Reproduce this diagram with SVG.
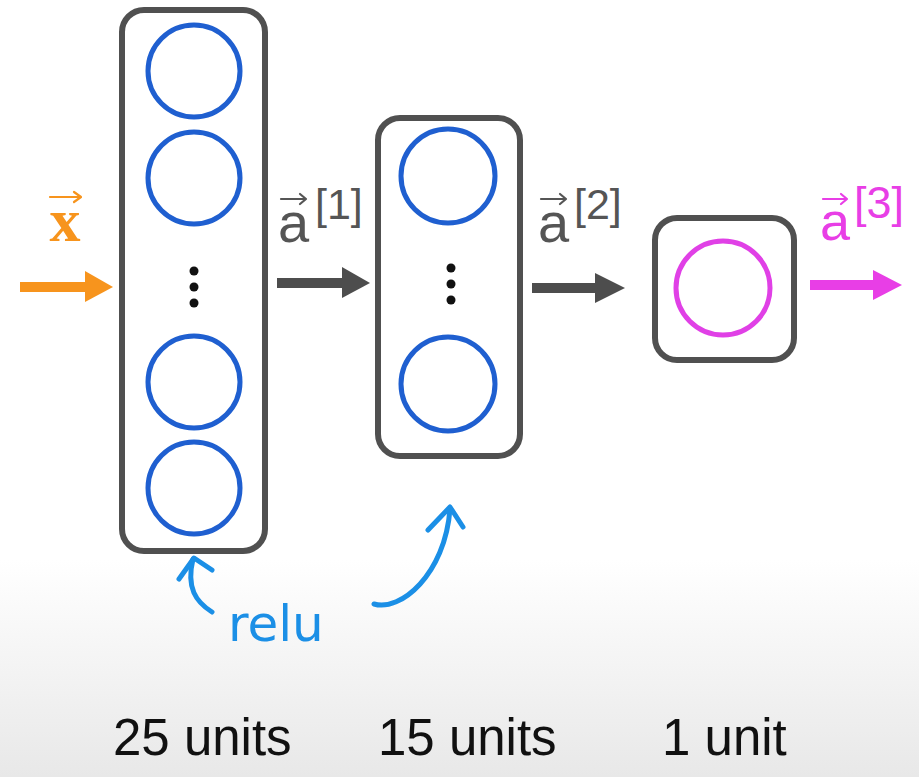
<svg xmlns="http://www.w3.org/2000/svg" width="919" height="777" viewBox="0 0 919 777">
  <defs>
    <linearGradient id="bg" x1="0" y1="560" x2="0" y2="777" gradientUnits="userSpaceOnUse">
      <stop offset="0" stop-color="#ffffff"/>
      <stop offset="1" stop-color="#e8e8e8"/>
    </linearGradient>
    <style>
      .box { fill: #ffffff; stroke: #505050; stroke-width: 6; }
      .unit { fill: none; stroke: #1f5fd0; stroke-width: 5; }
      .out { fill: none; stroke: #e040e6; stroke-width: 5; }
      .dot { fill: #111111; }
      .lbl { font-family: "Liberation Sans", Arial, sans-serif; }
      .vec { fill: none; stroke-width: 2.2; stroke-linecap: round; stroke-linejoin: round; }
      .hand { fill: none; stroke: #1b8fe6; stroke-width: 5; stroke-linecap: round; stroke-linejoin: round; }
      .cnt { font-family: "Liberation Sans", Arial, sans-serif; font-size: 51px; fill: #111111; }
    </style>
  </defs>
  <rect x="0" y="0" width="919" height="777" fill="url(#bg)"/>

  <g id="layer1">
    <rect class="box" x="122" y="10" width="143" height="541" rx="22"/>
    <circle class="unit" cx="194" cy="71" r="46"/>
    <circle class="unit" cx="194" cy="178" r="46"/>
    <circle class="dot" cx="194" cy="271" r="4.5"/>
    <circle class="dot" cx="194" cy="287" r="4.5"/>
    <circle class="dot" cx="194" cy="303" r="4.5"/>
    <circle class="unit" cx="194" cy="382" r="46"/>
    <circle class="unit" cx="194" cy="488" r="46"/>
  </g>

  <g id="layer2">
    <rect class="box" x="378" y="118" width="142" height="338" rx="22"/>
    <circle class="unit" cx="448" cy="176" r="47"/>
    <circle class="dot" cx="451" cy="268" r="4.5"/>
    <circle class="dot" cx="451" cy="284" r="4.5"/>
    <circle class="dot" cx="451" cy="300" r="4.5"/>
    <circle class="unit" cx="448" cy="384" r="47"/>
  </g>

  <g id="layer3">
    <rect class="box" x="655" y="218" width="139" height="142" rx="22"/>
    <circle class="out" cx="723" cy="288" r="47"/>
  </g>

  <g id="connectors">
    <path d="M20 287 H88" stroke="#f7941d" stroke-width="10" fill="none"/>
    <polygon points="85,271 113,287 85,302" fill="#f7941d"/>
    <path d="M277 283 H345" stroke="#4d4d4d" stroke-width="10" fill="none"/>
    <polygon points="342,267 370,283 342,298" fill="#4d4d4d"/>
    <path d="M532 288 H598" stroke="#4d4d4d" stroke-width="10" fill="none"/>
    <polygon points="595,273 625,288 595,303" fill="#4d4d4d"/>
    <path d="M810 285 H876" stroke="#e83ee6" stroke-width="10" fill="none"/>
    <polygon points="873,270 902,285 873,300" fill="#e83ee6"/>
  </g>

  <g id="label-x">
    <text x="65" y="241" font-weight="bold" font-size="62" fill="#f7941d" text-anchor="middle" style="font-family:'Liberation Serif',serif">x</text>
    <path class="vec" d="M50 197 H81 M74 192 L81 197 L74 202" stroke="#f7941d"/>
  </g>

  <g id="label-a1">
    <text class="lbl" x="278" y="242" font-size="56" fill="#555555">a</text>
    <text class="lbl" x="315" y="219" font-size="43" fill="#555555">[1]</text>
    <path class="vec" d="M281 199 H306 M300 194 L306 199 L300 204" stroke="#555555"/>
  </g>

  <g id="label-a2">
    <text class="lbl" x="538" y="242" font-size="56" fill="#555555">a</text>
    <text class="lbl" x="574" y="219" font-size="43" fill="#555555">[2]</text>
    <path class="vec" d="M541 199 H566 M560 194 L566 199 L560 204" stroke="#555555"/>
  </g>

  <g id="label-a3">
    <text class="lbl" x="820" y="240" font-size="54" fill="#e83ee6">a</text>
    <text class="lbl" x="854" y="218" font-size="45" fill="#e83ee6">[3]</text>
    <path class="vec" d="M823 199 H847 M841 194 L847 199 L841 204" stroke="#e83ee6"/>
  </g>

  <g id="relu-note">
    <path class="hand" d="M212 612 C196 602 186 588 193 559"/>
    <path class="hand" d="M179 579 L194 558 L212 570"/>
    <path class="hand" d="M374 604 C400 612 445 575 450 509"/>
    <path class="hand" d="M428 530 L450 507 L463 527"/>
    <text x="228" y="641" font-family="'DejaVu Sans', sans-serif" font-size="50" fill="#1b8fe6">relu</text>
  </g>

  <g id="counts">
    <text class="cnt" x="113" y="755">25 units</text>
    <text class="cnt" x="378" y="755">15 units</text>
    <text class="cnt" x="662" y="755">1 unit</text>
  </g>
</svg>
